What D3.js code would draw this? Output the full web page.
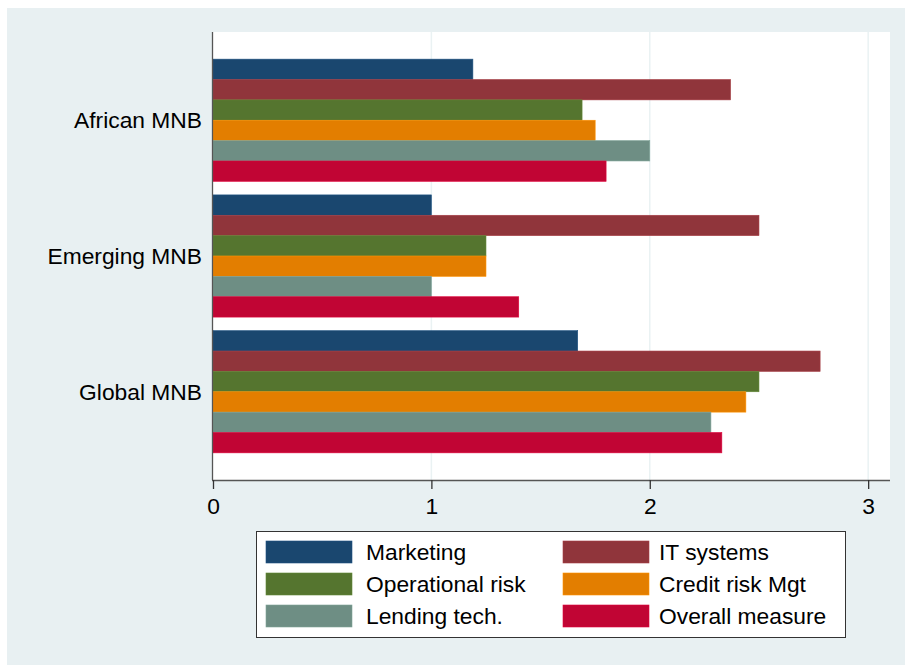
<!DOCTYPE html>
<html>
<head>
<meta charset="utf-8">
<script src="https://cdn.jsdelivr.net/npm/d3@7"></script>
<style>
  body { margin: 0; background: #fff; }
  svg text { font-family: "Liberation Sans", Arial, sans-serif; fill: #000; }
</style>
</head>
<body>
<div id="chart"></div>
<script>
// data
var groups = ['African MNB', 'Emerging MNB', 'Global MNB'];
var seriesNames = ['Marketing', 'IT systems', 'Operational risk', 'Credit risk Mgt', 'Lending tech.', 'Overall measure'];
var seriesColors = ['#1a476f', '#90353b', '#55752f', '#e37e00', '#6e8e84', '#c10534'];
var africanVals = [1.19, 2.37, 1.69, 1.75, 2.0, 1.8];
var emergingVals = [1.0, 2.5, 1.25, 1.25, 1.0, 1.4];
var globalVals = [1.67, 2.78, 2.5, 2.44, 2.28, 2.33];
var xTicks = [0, 1, 2, 3];

var values = [africanVals, emergingVals, globalVals];

var W = 905, H = 665;
var plot = { left: 212, top: 32, right: 890, bottom: 480 };
var fontSize = '22.8px';

var svg = d3.select('#chart').append('svg')
  .attr('width', W)
  .attr('height', H);

// outer background
svg.append('rect')
  .attr('x', 7).attr('y', 8)
  .attr('width', W - 7).attr('height', H - 8)
  .attr('fill', '#e8f0f2');

// plot region
svg.append('rect')
  .attr('x', plot.left).attr('y', plot.top)
  .attr('width', plot.right - plot.left)
  .attr('height', plot.bottom - plot.top)
  .attr('fill', '#fff');

var x = d3.scaleLinear()
  .domain([0, 3.1])
  .range([plot.left + 1, plot.right]);

var y0 = d3.scaleBand()
  .domain(groups)
  .range([plot.top, plot.bottom])
  .paddingInner(0.1)
  .paddingOuter(0.2);

var y1 = d3.scaleBand()
  .domain(seriesNames)
  .range([0, y0.bandwidth()]);

// grid
svg.append('g').selectAll('line')
  .data(xTicks.filter(d => d > 0))
  .enter().append('line')
  .attr('x1', d => x(d)).attr('x2', d => x(d))
  .attr('y1', plot.top).attr('y2', plot.bottom)
  .attr('stroke', '#eaf2f3')
  .attr('stroke-width', 1.5);

// bars
var gGroups = svg.append('g').selectAll('g')
  .data(groups)
  .enter().append('g')
  .attr('transform', d => 'translate(0,' + y0(d) + ')');

gGroups.selectAll('rect')
  .data((d, i) => values[i].map((v, j) => ({ name: seriesNames[j], value: v, color: seriesColors[j] })))
  .enter().append('rect')
  .attr('x', x(0))
  .attr('y', d => y1(d.name))
  .attr('width', d => x(d.value) - x(0))
  .attr('height', y1.bandwidth())
  .attr('fill', d => d.color)
  .attr('stroke', d => d3.color(d.color).brighter(0.4))
  .attr('stroke-width', 0.6);

// x axis
var xAxis = svg.append('g')
  .attr('transform', 'translate(0,' + plot.bottom + ')')
  .call(d3.axisBottom(x).tickValues(xTicks).tickSize(9).tickPadding(9).tickFormat(d3.format('d')));
xAxis.select('.domain').attr('stroke', '#555').attr('stroke-width', 1.3)
  .attr('d', 'M' + plot.left + ',0.5H' + plot.right);
xAxis.selectAll('.tick line').attr('stroke', '#333').attr('stroke-width', 1.3);
xAxis.selectAll('.tick text').style('font-size', fontSize).attr('dy', '0.72em');

// y axis line
svg.append('line')
  .attr('x1', plot.left + 0.5).attr('x2', plot.left + 0.5)
  .attr('y1', plot.top).attr('y2', plot.bottom)
  .attr('stroke', '#555').attr('stroke-width', 1.3);

// group labels
svg.append('g').selectAll('text')
  .data(groups)
  .enter().append('text')
  .attr('x', plot.left - 10)
  .attr('y', d => y0(d) + y0.bandwidth() / 2)
  .attr('dy', '0.35em')
  .attr('text-anchor', 'end')
  .style('font-size', fontSize)
  .text(d => d);

// legend
var legend = svg.append('g');
legend.append('rect')
  .attr('x', 256.5).attr('y', 531.5)
  .attr('width', 589).attr('height', 106)
  .attr('fill', '#fff')
  .attr('stroke', '#333')
  .attr('stroke-width', 1);

var legItems = legend.selectAll('g.item')
  .data(seriesNames)
  .enter().append('g')
  .attr('class', 'item')
  .attr('transform', (d, i) => 'translate(' + (i % 2 === 0 ? 266 : 563) + ',' + (541 + Math.floor(i / 2) * 32) + ')');

legItems.append('rect')
  .attr('width', 86).attr('height', 22)
  .attr('fill', (d, i) => seriesColors[i])
  .attr('stroke', (d, i) => d3.color(seriesColors[i]).brighter(0.4))
  .attr('stroke-width', 0.6);

legItems.append('text')
  .attr('x', (d, i) => i % 2 === 0 ? 100 : 96)
  .attr('y', 11)
  .attr('dy', '0.35em')
  .style('font-size', fontSize)
  .text(d => d);
</script>
</body>
</html>
